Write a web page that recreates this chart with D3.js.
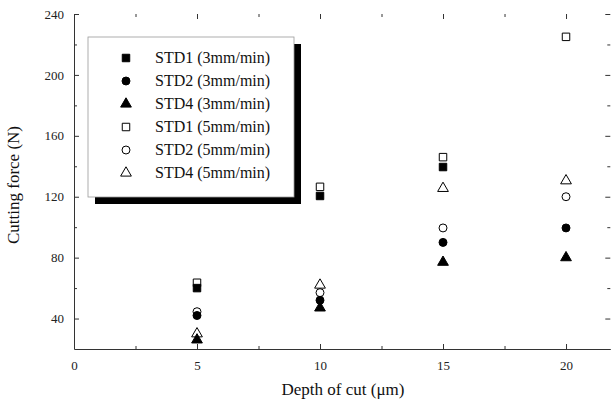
<!DOCTYPE html>
<html><head><meta charset="utf-8">
<script src="https://cdn.jsdelivr.net/npm/d3@7"></script>
<style>
html,body{margin:0;padding:0;background:#fff;}
svg{display:block;font-family:"Liberation Serif","Times New Roman",serif;}
</style></head>
<body>
<svg id="chart" width="613" height="403"></svg>
<script>
// ---- data ----
const depth = [5, 10, 15, 20];
const std1_3 = [60, 120.5, 139.5, null];
const std2_3 = [42, 52, 90, 99.5];
const std4_3 = [26, 47, 77, 80];
const std1_5 = [63.5, 126.5, 146, 225];
const std2_5 = [44.5, 57, 99.5, 120];
const std4_5 = [30, 62, 125.5, 130.5];
const seriesNames = ["STD1 (3mm/min)", "STD2 (3mm/min)", "STD4 (3mm/min)",
                     "STD1 (5mm/min)", "STD2 (5mm/min)", "STD4 (5mm/min)"];
const xTicks = [0, 5, 10, 15, 20];
const yTicks = [40, 80, 120, 160, 200, 240];

const seriesVals = [std1_3, std2_3, std4_3, std1_5, std2_5, std4_5];
const shapes = ["square", "circle", "triangle", "square", "circle", "triangle"];
const filled = [true, true, true, false, false, false];

const svg = d3.select("#chart");
const x = d3.scaleLinear().domain([0, 21.8]).range([74, 610.3]);
const y = d3.scaleLinear().domain([20, 240]).range([349, 14]);

const symType = {square: d3.symbolSquare, circle: d3.symbolCircle, triangle: d3.symbolTriangle};
const symSize = {square: 56, circle: 50, triangle: 50};
function sym(shape){ return d3.symbol().type(symType[shape]).size(symSize[shape])(); }

// axes
svg.append("g").attr("transform", `translate(0,${y.range()[0]})`)
  .call(d3.axisBottom(x).tickValues(xTicks).tickSizeInner(-5).tickSizeOuter(0).tickPadding(12).tickFormat(d3.format("d")));
svg.append("g").attr("transform", `translate(${x.range()[0]},0)`)
  .call(d3.axisLeft(y).tickValues(yTicks).tickSizeInner(-5).tickSizeOuter(0).tickPadding(10).tickFormat(d3.format("d")));
// minor ticks
const xMinor = [2.5, 7.5, 12.5, 17.5];
const yMinor = [60, 100, 140, 180, 220];
svg.append("g").attr("transform", `translate(0,${y.range()[0]})`)
  .call(d3.axisBottom(x).tickValues(xMinor).tickSizeInner(-3).tickSizeOuter(0).tickFormat(""))
  .select(".domain").remove();
svg.append("g").attr("transform", `translate(${x.range()[0]},0)`)
  .call(d3.axisLeft(y).tickValues(yMinor).tickSizeInner(-3).tickSizeOuter(0).tickFormat(""))
  .select(".domain").remove();
// top and right ticks (no line)
svg.append("g").attr("transform", `translate(0,${y.range()[1]})`)
  .call(d3.axisTop(x).tickValues(xTicks).tickSizeInner(-5).tickSizeOuter(0).tickFormat(""))
  .select(".domain").remove();
svg.append("g").attr("transform", `translate(0,${y.range()[1]})`)
  .call(d3.axisTop(x).tickValues(xMinor).tickSizeInner(-3).tickSizeOuter(0).tickFormat(""))
  .select(".domain").remove();
svg.append("g").attr("transform", `translate(${x.range()[1]},0)`)
  .call(d3.axisRight(y).tickValues(yTicks).tickSizeInner(-5).tickSizeOuter(0).tickFormat(""))
  .select(".domain").remove();
svg.append("g").attr("transform", `translate(${x.range()[1]},0)`)
  .call(d3.axisRight(y).tickValues(yMinor).tickSizeInner(-3).tickSizeOuter(0).tickFormat(""))
  .select(".domain").remove();

svg.selectAll(".domain").attr("stroke", "#333");
svg.selectAll(".tick line").attr("stroke", "#333");
svg.selectAll(".tick text").attr("font-family", "Liberation Serif, serif").attr("font-size", 13).attr("fill", "#222");

// axis titles
svg.append("text").attr("x", 343).attr("y", 395).attr("text-anchor", "middle")
  .attr("font-size", 17).attr("fill", "#111").text("Depth of cut (\u03bcm)");
svg.append("text").attr("transform", "translate(19,185) rotate(-90)").attr("text-anchor", "middle")
  .attr("font-size", 17).attr("fill", "#111").text("Cutting force (N)");

// data points
seriesVals.forEach((vals, i) => {
  const pts = depth.map((d, j) => ({x: d, y: vals[j]})).filter(p => p.y != null);
  svg.append("g").selectAll("path").data(pts).join("path")
    .attr("d", sym(shapes[i]))
    .attr("transform", p => `translate(${x(p.x)},${y(p.y)})`)
    .attr("fill", filled[i] ? "#000" : "none")
    .attr("stroke", "#000").attr("stroke-width", 1);
});

// legend
const lg = svg.append("g");
const lx = 88, ly = 37, lw = 206, lh = 160;
lg.append("rect").attr("x", lx + 7).attr("y", ly + 7).attr("width", lw).attr("height", lh).attr("fill", "#000");
lg.append("rect").attr("x", lx).attr("y", ly).attr("width", lw).attr("height", lh)
  .attr("fill", "#fff").attr("stroke", "#999").attr("stroke-width", 0.8);
seriesNames.forEach((name, i) => {
  const yy = 58 + i * 23;
  lg.append("path").attr("d", sym(shapes[i])).attr("transform", `translate(126,${yy})`)
    .attr("fill", filled[i] ? "#000" : "none").attr("stroke", "#000").attr("stroke-width", 1);
  lg.append("text").attr("x", 155).attr("y", yy + 5).attr("font-size", 16).attr("fill", "#111").text(name);
});
</script>
</body></html>
